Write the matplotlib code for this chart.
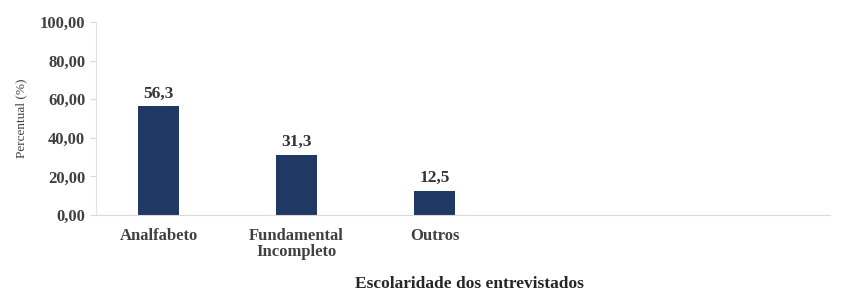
import matplotlib.pyplot as plt
import numpy as np

# Data
categorias = ["Analfabeto", "Fundamental\nIncompleto", "Outros"]
valores = [56.3, 31.3, 12.5]
rotulos = ["56,3", "31,3", "12,5"]
yticks = [0, 20, 40, 60, 80, 100]

plt.rcParams['font.family'] = ['Liberation Serif', 'DejaVu Serif']

fig = plt.figure(figsize=(8.45, 2.91), dpi=100)
ax = fig.add_axes([0.114, 0.261, 0.868, 0.663])

x = np.arange(len(categorias))
bars = ax.bar(x, valores, width=0.3, color="#1F3864")

# value labels above bars
for b, txt in zip(bars, rotulos):
    ax.text(b.get_x() + b.get_width() / 2, b.get_height() + 2.5, txt,
            ha="center", va="bottom", fontsize=12.5, fontweight="bold", color="#333333")

ax.set_xlim(-0.45, 4.86)
ax.set_ylim(0, 100)
ax.set_xticks(x)
ax.set_xticklabels(categorias, fontsize=12, fontweight="bold", color="#404040",
                   linespacing=1.0)
ax.set_yticks(yticks)
ax.set_yticklabels([f"{v:.2f}".replace(".", ",") for v in yticks],
                   fontsize=12, fontweight="bold", color="#404040")
ax.tick_params(axis="x", length=0, pad=9)
ax.tick_params(axis="y", length=4, color="#d9d9d9", pad=4)

for s in ["top", "right"]:
    ax.spines[s].set_visible(False)
ax.spines["left"].set_color("#e3e3e3")
ax.spines["bottom"].set_color("#d9d9d9")

ax.set_ylabel("Percentual (%)", fontsize=9.5, color="#404040", labelpad=9)

# x-axis title sits near the bottom edge of the figure
fig.text(0.556, 0.025, "Escolaridade dos entrevistados", fontsize=12.5,
         fontweight="bold", color="#262626", ha="center", va="center")

fig.savefig("out.png", dpi=100)
